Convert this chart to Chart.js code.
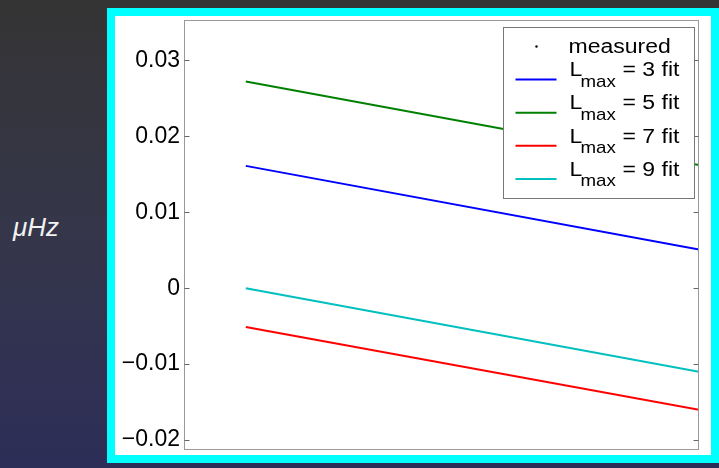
<!DOCTYPE html>
<html>
<head>
<meta charset="utf-8">
<script src="https://cdn.jsdelivr.net/npm/chart.js@4"></script>
<style>
    html, body {
        margin: 0;
        padding: 0;
        width: 719px;
        height: 468px;
        overflow: hidden;
        background: linear-gradient(to bottom, #343434 0%, #35364a 50%, #2d2e58 100%);
        font-family: "Liberation Sans", Arial, sans-serif;
    }
    #unit {
        position: absolute;
        left: 13px;
        top: 212px;
        color: #f2f2f2;
        font-size: 26px;
        font-style: italic;
    }
    #frame {
        position: absolute;
        left: 107px;
        top: 8px;
        width: 596px;
        height: 439px;
        border: 8px solid #00ffff;
        background: #fff;
    }
    #frame canvas {
        position: absolute;
        left: 0;
        top: 0;
    }
</style>
</head>
<body>
<div id="unit">μHz</div>
<div id="frame"><canvas id="fitChart" width="596" height="439"></canvas></div>
<script>
// x positions where the fitted lines are evaluated (x axis carries no labels)
const xValues = [0.12, 1.0];

const measured = [];
const fitL3 = [0.0161, 0.0051];
const fitL5 = [0.0272, 0.0162];
const fitL7 = [-0.0051, -0.0160];
const fitL9 = [0.0000, -0.0110];

const lmaxValues = [3, 5, 7, 9];

const yMin = -0.0213;
const yMax = 0.0353;
const yTickValues = [-0.02, -0.01, 0, 0.01, 0.02, 0.03];
const yTickLabels = ['\u22120.02', '\u22120.01', '0', '0.01', '0.02', '0.03'];

const FONT = '"Liberation Sans", Arial, sans-serif';

function toPoints(values) {
    return values.map((v, i) => ({ x: xValues[i], y: v }));
}

// text slightly stretched sideways, like the original figure
function stretchText(ctx, text, x, y, size, stretch) {
    ctx.save();
    ctx.translate(x, y);
    ctx.scale(stretch, 1);
    ctx.font = size + 'px ' + FONT;
    ctx.fillStyle = '#000';
    ctx.textBaseline = 'alphabetic';
    ctx.textAlign = 'left';
    ctx.fillText(text, 0, 0);
    ctx.restore();
}

const boxAndLegend = {
    id: 'boxAndLegend',
    afterDraw(chart) {
        const { ctx, chartArea } = chart;
        const yScale = chart.scales.y;
        const left = Math.round(chartArea.left) + 0.5;
        const right = Math.round(chartArea.right) - 0.5;
        const top = Math.round(chartArea.top) + 0.5;
        const bottom = Math.round(chartArea.bottom) - 0.5;

        ctx.save();
        ctx.strokeStyle = '#999';
        ctx.lineWidth = 1;
        ctx.strokeRect(left, top, right - left, bottom - top);

        // inward tick marks, both sides
        ctx.strokeStyle = '#666';
        yTickValues.forEach(v => {
            const py = Math.round(yScale.getPixelForValue(v)) + 0.5;
            ctx.beginPath();
            ctx.moveTo(left, py);
            ctx.lineTo(left + 5, py);
            ctx.moveTo(right - 5, py);
            ctx.lineTo(right, py);
            ctx.stroke();
        });

        // legend
        const w = 191, h = 171;
        const x0 = Math.round(chartArea.right - 5 - w) + 0.5;
        const y0 = Math.round(chartArea.top + 7) + 0.5;
        ctx.fillStyle = '#fff';
        ctx.fillRect(x0, y0, w, h);
        ctx.strokeStyle = '#777';
        ctx.strokeRect(x0, y0, w, h);

        chart.data.datasets.forEach((ds, i) => {
            const cy = y0 + 19 + 33.1 * i;
            if (ds.showLine === false) {
                ctx.fillStyle = '#000';
                ctx.beginPath();
                ctx.arc(x0 + 33, cy, 1.2, 0, Math.PI * 2);
                ctx.fill();
                stretchText(ctx, 'measured', x0 + 65, cy + 6.7, 20, 1.15);
            } else {
                ctx.strokeStyle = ds.borderColor;
                ctx.lineWidth = 2;
                ctx.beginPath();
                ctx.moveTo(x0 + 12, cy);
                ctx.lineTo(x0 + 53, cy);
                ctx.stroke();
                stretchText(ctx, 'L', x0 + 66, cy - 3.3, 20, 1.15);
                stretchText(ctx, 'max', x0 + 77, cy + 7.4, 17, 1.1);
                stretchText(ctx, '= ' + ds.lmax + ' fit', x0 + 119, cy - 3.3, 20, 1.15);
            }
        });
        ctx.restore();
    }
};

function makeLine(values, color, lmax) {
    return {
        label: 'Lmax = ' + lmax + ' fit',
        lmax: lmax,
        data: toPoints(values),
        borderColor: color,
        backgroundColor: color,
        borderWidth: 2,
        pointRadius: 0,
        fill: false,
        tension: 0
    };
}

const ctx = document.getElementById('fitChart').getContext('2d');

new Chart(ctx, {
    type: 'line',
    data: {
        datasets: [
            {
                label: 'measured',
                data: toPoints(measured),
                showLine: false,
                pointRadius: 1,
                borderColor: '#000',
                backgroundColor: '#000'
            },
            makeLine(fitL3, '#0000ff', lmaxValues[0]),
            makeLine(fitL5, '#008000', lmaxValues[1]),
            makeLine(fitL7, '#ff0000', lmaxValues[2]),
            makeLine(fitL9, '#00bfbf', lmaxValues[3])
        ]
    },
    options: {
        responsive: false,
        animation: false,
        layout: {
            padding: { left: 0, top: 4, right: 12, bottom: 5 }
        },
        plugins: {
            legend: { display: false },
            tooltip: { enabled: false }
        },
        scales: {
            x: {
                type: 'linear',
                min: 0,
                max: 1,
                display: false
            },
            y: {
                type: 'linear',
                min: yMin,
                max: yMax,
                grid: { display: false, drawTicks: false },
                border: { display: false },
                ticks: {
                    autoSkip: false,
                    padding: 4,
                    color: '#000',
                    font: { family: FONT, size: 23 },
                    callback: (value) => yTickLabels[yTickValues.indexOf(value)]
                },
                afterBuildTicks: (scale) => {
                    scale.ticks = yTickValues.map(v => ({ value: v }));
                },
                afterFit: (scale) => {
                    scale.width = 69;
                    scale.paddingTop = 0;
                    scale.paddingBottom = 0;
                }
            }
        }
    },
    plugins: [boxAndLegend]
});
</script>
</body>
</html>
